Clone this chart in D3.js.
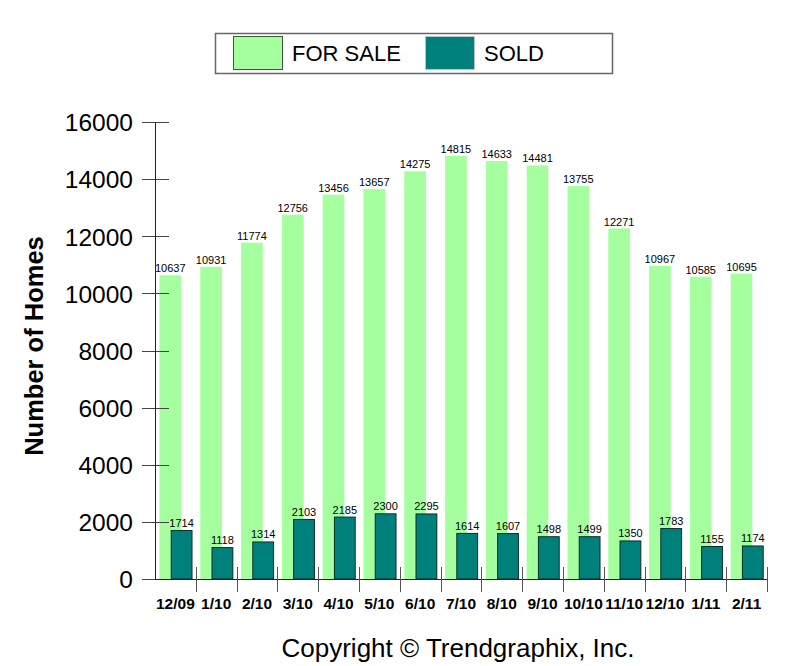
<!DOCTYPE html>
<html>
<head>
<meta charset="utf-8">
<script src="https://cdn.jsdelivr.net/npm/d3@7"></script>
<style>
    body { margin: 0; background: #fff; }
    svg { display: block; font-family: Arial, "Liberation Sans", sans-serif; }
</style>
</head>
<body>
<div id="chart"></div>
<script>
const months = ["12/09", "1/10", "2/10", "3/10", "4/10", "5/10", "6/10", "7/10",
    "8/10", "9/10", "10/10", "11/10", "12/10", "1/11", "2/11"];
const forSale = [10637, 10931, 11774, 12756, 13456, 13657, 14275, 14815,
    14633, 14481, 13755, 12271, 10967, 10585, 10695];
const sold = [1714, 1118, 1314, 2103, 2185, 2300, 2295, 1614,
    1607, 1498, 1499, 1350, 1783, 1155, 1174];
const yTicks = [0, 2000, 4000, 6000, 8000, 10000, 12000, 14000, 16000];

const width = 799, height = 666;
const margin = { top: 122, right: 32, bottom: 87, left: 155 };
const innerWidth = width - margin.left - margin.right;
const innerHeight = height - margin.top - margin.bottom;

const saleColor = "#a6ff9f";
const soldColor = "#00807b";

const svg = d3.select("#chart").append("svg")
    .attr("width", width)
    .attr("height", height);

const chart = svg.append("g")
    .attr("transform", `translate(${margin.left}, ${margin.top})`);

const data = months.map((m, i) => ({ month: m, sale: forSale[i], sold: sold[i] }));

const xScale = d3.scaleBand()
    .domain(months)
    .range([0, innerWidth])
    .padding(0);

const yScale = d3.scaleLinear()
    .domain([0, 16000])
    .range([innerHeight, 0]);

const bw = xScale.bandwidth();

// for sale bars
chart.selectAll(".sale-bar")
    .data(data)
    .enter()
    .append("rect")
    .attr("class", "sale-bar")
    .attr("x", d => xScale(d.month) + bw * 0.11)
    .attr("width", bw * 0.53)
    .attr("y", d => yScale(d.sale))
    .attr("height", d => innerHeight - yScale(d.sale))
    .style("fill", saleColor);

// sold bars
chart.selectAll(".sold-bar")
    .data(data)
    .enter()
    .append("rect")
    .attr("class", "sold-bar")
    .attr("x", d => xScale(d.month) + bw * 0.385 + 0.5)
    .attr("width", bw * 0.51)
    .attr("y", d => yScale(d.sold) + 0.5)
    .attr("height", d => innerHeight - yScale(d.sold) - 0.5)
    .style("fill", soldColor)
    .style("stroke", "#0b2b2a")
    .style("stroke-width", 1);

// value labels
chart.selectAll(".sale-label")
    .data(data)
    .enter()
    .append("text")
    .attr("class", "sale-label")
    .attr("x", d => xScale(d.month) + bw * (0.11 + 0.265))
    .attr("y", d => yScale(d.sale) - 3)
    .attr("text-anchor", "middle")
    .style("font-size", "11px")
    .style("fill", "#000")
    .text(d => d.sale);

chart.selectAll(".sold-label")
    .data(data)
    .enter()
    .append("text")
    .attr("class", "sold-label")
    .attr("x", d => xScale(d.month) + bw * (0.385 + 0.255) + 0.5)
    .attr("y", d => yScale(d.sold) - 3)
    .attr("text-anchor", "middle")
    .style("font-size", "11px")
    .style("fill", "#000")
    .text(d => d.sold);

// y axis
const yAxis = d3.axisLeft(yScale)
    .tickValues(yTicks)
    .tickFormat(d3.format("d"))
    .tickSize(0)
    .tickPadding(22);

const yG = chart.append("g")
    .attr("class", "y-axis")
    .call(yAxis);
yG.select(".domain").remove();
yG.selectAll("text")
    .style("font-size", "24.5px")
    .style("fill", "#000")
    .attr("dy", "0.36em");

chart.selectAll(".y-tick")
    .data(yTicks)
    .enter()
    .append("line")
    .attr("class", "y-tick")
    .attr("x1", -13)
    .attr("x2", 14)
    .attr("y1", d => Math.round(yScale(d)) + 0.5)
    .attr("y2", d => Math.round(yScale(d)) + 0.5)
    .style("stroke", "#444")
    .style("stroke-width", 1);

chart.append("line")
    .attr("x1", 0.5).attr("x2", 0.5)
    .attr("y1", yScale(16000)).attr("y2", innerHeight)
    .style("stroke", "#222");

// x axis
chart.append("line")
    .attr("x1", 0).attr("x2", innerWidth)
    .attr("y1", innerHeight + 0.5).attr("y2", innerHeight + 0.5)
    .style("stroke", "#222");

chart.selectAll(".x-tick")
    .data(months)
    .enter()
    .append("line")
    .attr("class", "x-tick")
    .attr("x1", d => Math.round(xScale(d) + bw) + 0.5)
    .attr("x2", d => Math.round(xScale(d) + bw) + 0.5)
    .attr("y1", innerHeight - 12)
    .attr("y2", innerHeight + 13)
    .style("stroke", "#555")
    .style("stroke-width", 1);

chart.selectAll(".x-label")
    .data(months)
    .enter()
    .append("text")
    .attr("class", "x-label")
    .attr("x", d => xScale(d) + bw / 2)
    .attr("y", innerHeight + 30)
    .attr("text-anchor", "middle")
    .style("font-size", "15.5px")
    .style("font-weight", "bold")
    .style("fill", "#000")
    .text(d => d);

// y axis title
svg.append("text")
    .attr("transform", "translate(43, 346) rotate(-90)")
    .attr("text-anchor", "middle")
    .style("font-size", "25.5px")
    .style("font-weight", "bold")
    .style("fill", "#000")
    .text("Number of Homes");

// copyright
svg.append("text")
    .attr("x", 458)
    .attr("y", 657)
    .attr("text-anchor", "middle")
    .style("font-size", "26px")
    .style("fill", "#000")
    .text("Copyright \u00A9 Trendgraphix, Inc.");

// legend
const legend = svg.append("g");
legend.append("rect")
    .attr("x", 215.5).attr("y", 33.5)
    .attr("width", 397).attr("height", 40)
    .style("fill", "#fff")
    .style("stroke", "#666")
    .style("stroke-width", 1.5);

const legendItems = [
    { label: "FOR SALE", color: saleColor, stroke: "#3a5a3a", x: 233 },
    { label: "SOLD", color: soldColor, stroke: "#b8c8c8", x: 425 }
];

legend.selectAll(".swatch")
    .data(legendItems)
    .enter()
    .append("rect")
    .attr("class", "swatch")
    .attr("x", d => d.x + 0.5)
    .attr("y", 36.5)
    .attr("width", 49)
    .attr("height", 33)
    .style("fill", d => d.color)
    .style("stroke", d => d.stroke);

legend.selectAll(".legend-label")
    .data(legendItems)
    .enter()
    .append("text")
    .attr("class", "legend-label")
    .attr("x", d => d.x + 59)
    .attr("y", 61)
    .style("font-size", "22px")
    .style("fill", "#000")
    .text(d => d.label);
</script>
</body>
</html>
